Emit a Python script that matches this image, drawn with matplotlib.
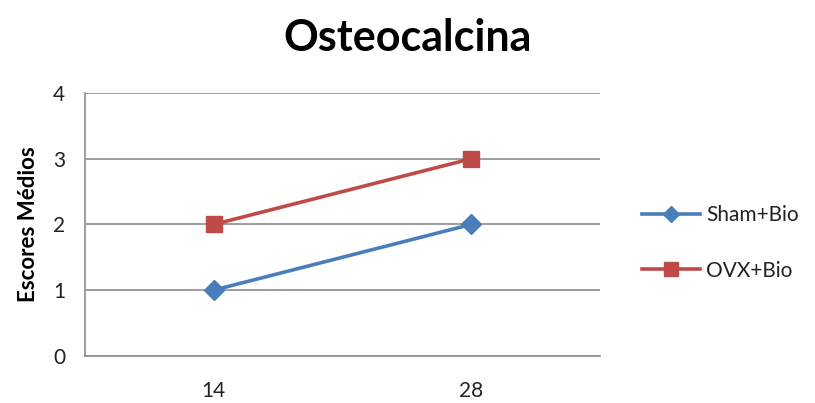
import matplotlib
matplotlib.use("Agg")
import matplotlib.pyplot as plt

plt.rcParams["font.family"] = ["Lato", "DejaVu Sans"]

dias = ["14", "28"]
sham_bio = [1, 2]
ovx_bio = [2, 3]

fig = plt.figure(figsize=(8.15, 4.03), dpi=100)
ax = fig.add_axes([0.104, 0.117, 0.632, 0.652])

x = range(len(dias))
ax.plot(x, sham_bio, color="#4A7EBB", lw=2.6, marker="D", ms=10,
        label="Sham+Bio")
ax.plot(x, ovx_bio, color="#BE4B48", lw=2.6, marker="s", ms=12,
        label="OVX+Bio")

ax.set_xlim(-0.5, 1.5)
ax.set_ylim(0, 4)
ax.set_yticks([0, 1, 2, 3, 4])
ax.set_xticks(list(x))
ax.set_xticklabels(dias)
ax.yaxis.grid(True, color="#8C8C8C", lw=1.2)
ax.set_axisbelow(True)
for s in ["top", "right"]:
    ax.spines[s].set_visible(False)
for s in ["left", "bottom"]:
    ax.spines[s].set_color("#8C8C8C")
    ax.spines[s].set_linewidth(1.2)
ax.tick_params(axis="y", length=0, labelsize=15, colors="#222222", pad=14)
ax.tick_params(axis="x", length=0, labelsize=15, colors="#222222", pad=18)

ax.set_ylabel("Escores Médios", fontsize=16, fontweight="bold", labelpad=10)
fig.suptitle("Osteocalcina", fontsize=31, fontweight="bold", x=0.5, y=0.955)

ax.legend(loc="center left", bbox_to_anchor=(1.045, 0.43), frameon=False,
          fontsize=15, labelspacing=1.7, handlelength=2.8, handletextpad=0.3,
          markerscale=0.8, labelcolor="#222222")

fig.savefig("out.png", dpi=100, facecolor="white")
